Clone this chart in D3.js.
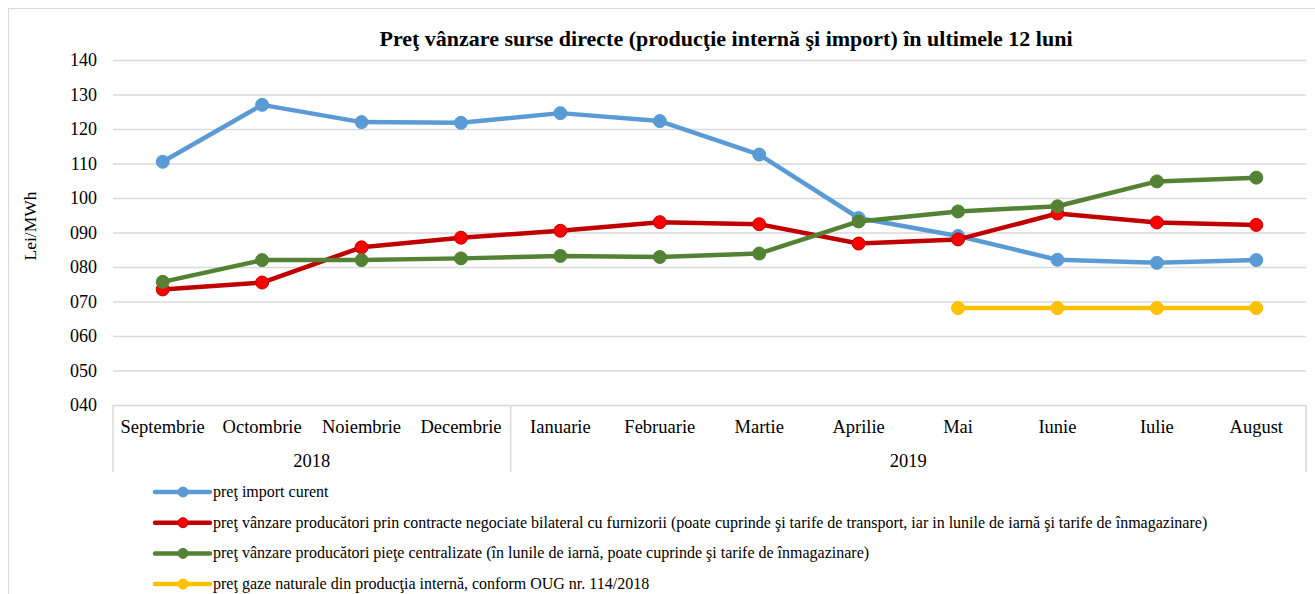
<!DOCTYPE html>
<html>
<head>
<meta charset="utf-8">
<script src="https://cdn.jsdelivr.net/npm/d3@7"></script>
<style>
  body { margin: 0; background: #fff; }
  svg, svg text { font-family: "Liberation Serif", "Times New Roman", serif; }
</style>
</head>
<body>
<svg id="chart"></svg>
<script>
const months = ['Septembrie', 'Octombrie', 'Noiembrie', 'Decembrie', 'Ianuarie', 'Februarie',
  'Martie', 'Aprilie', 'Mai', 'Iunie', 'Iulie', 'August'];
const years = [
  { label: '2018', from: 'Septembrie', to: 'Decembrie' },
  { label: '2019', from: 'Ianuarie', to: 'August' }
];
const importCurent = [110.5, 127, 122, 121.8, 124.6, 122.3, 112.6, 94.2, 89, 82.1, 81.2, 82];
const bilateral = [73.5, 75.5, 85.7, 88.5, 90.5, 93, 92.4, 86.8, 88, 95.5, 92.9, 92.2];
const centralizate = [75.7, 82, 82, 82.5, 83.2, 82.9, 83.9, 93.2, 96.1, 97.6, 104.8, 105.9];
const productieInterna = [null, null, null, null, null, null, null, null, 68.1, 68.1, 68.1, 68.1];
const yTicks = [40, 50, 60, 70, 80, 90, 100, 110, 120, 130, 140];

const series = [
  { name: 'preţ import curent', values: importCurent, line: '#5B9BD5', fill: '#5B9BD5' },
  { name: 'preţ vânzare producători prin contracte negociate bilateral cu furnizorii (poate cuprinde şi tarife de transport, iar in lunile de iarnă şi tarife de înmagazinare)', values: bilateral, line: '#C00000', fill: '#FF0000' },
  { name: 'preţ vânzare producători pieţe centralizate (în lunile de iarnă, poate cuprinde şi tarife de înmagazinare)', values: centralizate, line: '#548235', fill: '#548235' },
  { name: 'preţ gaze naturale din producţia internă, conform OUG nr. 114/2018', values: productieInterna, line: '#FFC000', fill: '#FFC000' }
];

const W = 1315, H = 594;
const margin = { top: 60, left: 113, right: 9, bottom: 189 };
const innerW = W - margin.left - margin.right;
const innerH = H - margin.top - margin.bottom;

const svg = d3.select('#chart').attr('width', W).attr('height', H);

// outer chart border
svg.append('rect')
  .attr('x', 8.5).attr('y', 8.5)
  .attr('width', W).attr('height', H)
  .attr('fill', 'none').attr('stroke', '#d9d9d9');

svg.append('text')
  .attr('x', 726).attr('y', 46)
  .attr('text-anchor', 'middle')
  .attr('font-size', 22).attr('font-weight', 'bold')
  .text('Preţ vânzare surse directe (producţie internă şi import) în ultimele 12 luni');

const g = svg.append('g').attr('transform', `translate(${margin.left},${margin.top})`);

const x = d3.scaleBand().domain(months).range([0, innerW]);
const y = d3.scaleLinear().domain([40, 140]).range([innerH, 0]);

// gridlines + y axis
const yAxis = d3.axisLeft(y).tickValues(yTicks).tickSize(-innerW).tickPadding(16)
  .tickFormat(d3.format('03d'));
g.append('g').call(yAxis)
  .attr('font-family', null)
  .call(s => s.select('.domain').remove())
  .call(s => s.selectAll('line').attr('stroke', '#d9d9d9').attr('stroke-width', 1.5))
  .call(s => s.selectAll('text').attr('font-size', 18).attr('fill', '#000'));

svg.append('text')
  .attr('transform', 'rotate(-90)')
  .attr('x', -226).attr('y', 36)
  .attr('text-anchor', 'middle')
  .attr('font-size', 17.5)
  .text('Lei/MWh');

// category axis (multi-level)
const xAxisG = g.append('g').attr('transform', `translate(0,${innerH})`);
xAxisG.selectAll('text.month').data(months).enter().append('text')
  .attr('class', 'month')
  .attr('x', d => x(d) + x.bandwidth() / 2)
  .attr('y', 28)
  .attr('text-anchor', 'middle')
  .attr('font-size', 18.5)
  .text(d => d);

const boundaries = [0].concat(years.map(yr => x(yr.to) + x.bandwidth()));
xAxisG.selectAll('line.sep').data(boundaries).enter().append('line')
  .attr('class', 'sep')
  .attr('x1', d => d).attr('x2', d => d)
  .attr('y1', 0).attr('y2', 67)
  .attr('stroke', '#d9d9d9').attr('stroke-width', 1.5);

xAxisG.selectAll('text.year').data(years).enter().append('text')
  .attr('class', 'year')
  .attr('x', d => (x(d.from) + x(d.to) + x.bandwidth()) / 2)
  .attr('y', 62)
  .attr('text-anchor', 'middle')
  .attr('font-size', 18.5)
  .text(d => d.label);

// lines
const line = d3.line()
  .defined(d => d != null)
  .x((d, i) => x(months[i]) + x.bandwidth() / 2)
  .y(d => y(d));

series.forEach(s => {
  g.append('path')
    .datum(s.values)
    .attr('fill', 'none')
    .attr('stroke', s.line)
    .attr('stroke-width', 4.5)
    .attr('stroke-linejoin', 'round')
    .attr('d', line);

  g.selectAll(null)
    .data(s.values.map((v, i) => ({ v, m: months[i] })).filter(d => d.v != null))
    .enter().append('circle')
      .attr('cx', d => x(d.m) + x.bandwidth() / 2)
      .attr('cy', d => y(d.v))
      .attr('r', 6.5)
      .attr('fill', s.fill)
      .attr('stroke', s.line)
      .attr('stroke-width', 1);
});

// legend
const legend = svg.append('g').attr('transform', 'translate(155,492)');
const rows = legend.selectAll('g').data(series).enter().append('g')
  .attr('transform', (d, i) => `translate(0,${i * 30.7})`);
rows.append('line')
  .attr('x1', 0).attr('x2', 55)
  .attr('stroke', d => d.line).attr('stroke-width', 4.5)
  .attr('stroke-linecap', 'round');
rows.append('circle')
  .attr('cx', 28).attr('r', 5)
  .attr('fill', d => d.fill).attr('stroke', d => d.line);
rows.append('text')
  .attr('x', 58).attr('y', 5)
  .attr('font-size', 16)
  .text(d => d.name);
</script>
</body>
</html>
